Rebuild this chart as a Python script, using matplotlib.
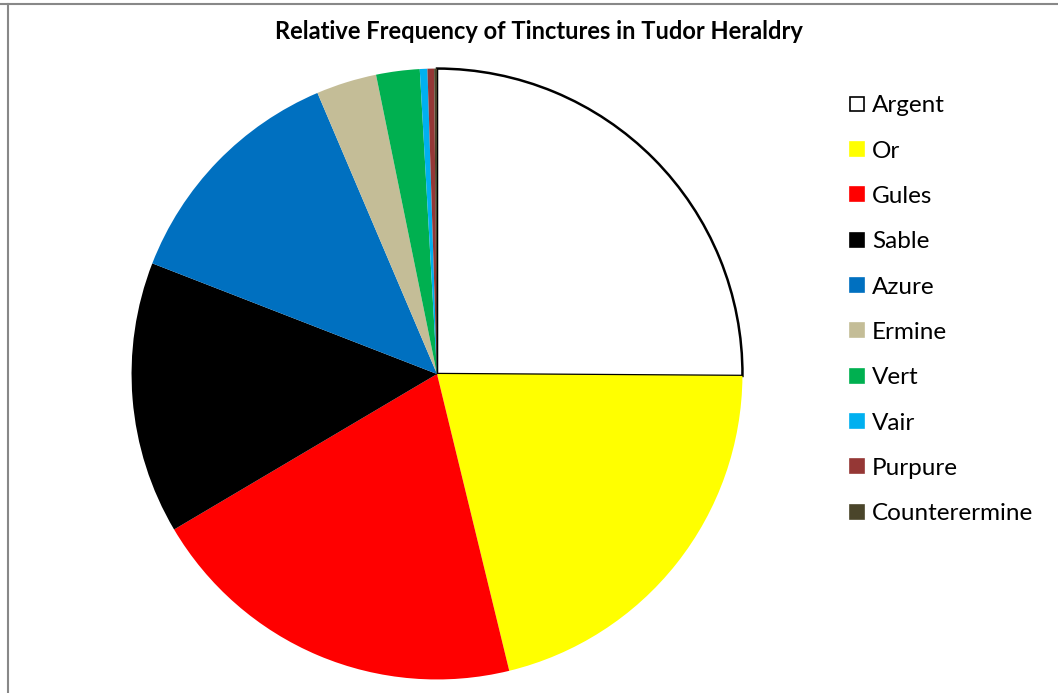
import matplotlib
matplotlib.use('Agg')
import matplotlib.pyplot as plt
from matplotlib.lines import Line2D

plt.rcParams['font.family'] = ['Lato', 'DejaVu Sans']

tinctures = ['Argent', 'Or', 'Gules', 'Sable', 'Azure', 'Ermine', 'Vert',
             'Vair', 'Purpure', 'Counterermine']
share = [25.1, 21.1, 20.3, 14.4, 12.7, 3.2, 2.3, 0.4, 0.35, 0.15]
colours = ['#FFFFFF', '#FFFF00', '#FF0000', '#000000', '#0070C0', '#C4BD97',
           '#00B050', '#00B0F0', '#953735', '#4A452A']

fig = plt.figure(figsize=(10.58, 6.93), dpi=100)
ax = fig.add_axes([0.1229, 0.0173, 0.5803, 0.886])

wedges, _ = ax.pie(share, colors=colours, startangle=90, counterclock=False,
                   wedgeprops=dict(linewidth=0))
# only the white slice gets an outline
wedges[0].set_edgecolor('black')
wedges[0].set_linewidth(1.8)
ax.set_xlim(-1.005, 1.005)
ax.set_ylim(-1.005, 1.005)
ax.set_aspect('equal')

fig.text(0.509, 0.954, 'Relative Frequency of Tinctures in Tudor Heraldry',
         ha='center', va='center', fontsize=17, fontweight='bold')

handles = []
for name, c in zip(tinctures, colours):
    handles.append(Line2D([], [], marker='s', linestyle='none', markersize=10,
                          markerfacecolor=c,
                          markeredgecolor='black' if c == '#FFFFFF' else c,
                          markeredgewidth=1.2))
fig.legend(handles, tinctures, loc='upper left', bbox_to_anchor=(0.792, 0.88),
           frameon=False, fontsize=17.5, handlelength=0.6, handletextpad=0.3,
           labelspacing=1.0, borderpad=0)

# grey frame edges from the original screenshot
fig.add_artist(Line2D([0, 1], [0.994, 0.994], color='#888888', linewidth=1.5,
                      transform=fig.transFigure))
fig.add_artist(Line2D([0.008, 0.008], [0, 0.994], color='#888888', linewidth=1.5,
                      transform=fig.transFigure))

fig.savefig('out.png', dpi=100)
